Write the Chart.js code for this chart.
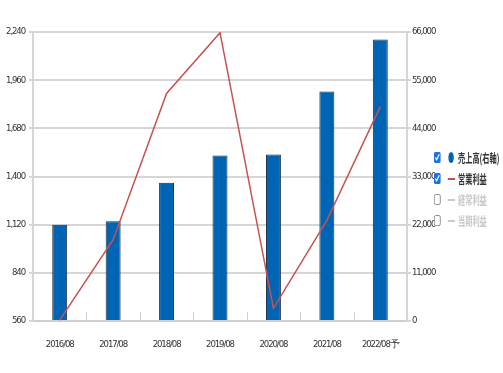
<!DOCTYPE html>
<html>
<head>
<meta charset="utf-8">
<script src="https://cdn.jsdelivr.net/npm/chart.js@4/dist/chart.umd.min.js"></script>
<style>
    body { margin: 0; background: #fff; }
    #wrap { position: relative; width: 503px; height: 373px; }
    #legend { position: absolute; left: 434px; top: 147px; font-family: "Noto Sans CJK JP", sans-serif; font-size: 12px; font-weight: bold; white-space: nowrap; transform: scaleX(0.6); transform-origin: left top; }
    .row { height: 21px; display: flex; align-items: center; color: #333; }
    .row.off { color: #c8c8c8; }
    .row input { margin: 0 12px 0 0; width: 11px; height: 11px; accent-color: #1a73e8; }
    .mark { display: inline-block; }
    .dot { width: 9px; height: 11px; border-radius: 50%; margin: 0 7px 0 1px; }
    .dash { width: 12px; height: 2px; margin-right: 5px; }
</style>
</head>
<body>
<div id="wrap">
    <canvas id="chart" width="503" height="373"></canvas>
    <div id="legend"></div>
</div>
<script>
var labels = ["2016/08", "2017/08", "2018/08", "2019/08", "2020/08", "2021/08", "2022/08予"];
var sales = [22000, 22800, 31600, 37800, 38000, 52400, 64300];
var operatingProfit = [565, 1033, 1883, 2236, 634, 1145, 1806];
var leftTicks = [560, 840, 1120, 1400, 1680, 1960, 2240];
var rightTicks = [0, 11000, 22000, 33000, 44000, 55000, 66000];

var legendItems = [
    { name: "売上高(右軸)", on: true, kind: "dot", color: "#0064b4" },
    { name: "営業利益", on: true, kind: "dash", color: "#c0504d" },
    { name: "経常利益", on: false, kind: "dash", color: "#c8c8c8" },
    { name: "当期利益", on: false, kind: "dash", color: "#c8c8c8" },
];

var tickFont = { family: "'DejaVu Sans Condensed', 'DejaVu Sans', sans-serif", size: 9.5 };

// the reference uses a very narrow face, tighten the tick text a bit
var tightText = {
    id: "tightText",
    beforeUpdate: function (chart) { chart.ctx.letterSpacing = "-1.1px"; },
    beforeDraw: function (chart) { chart.ctx.letterSpacing = "-1.1px"; },
};

// small marks at the category boundaries, drawn upward from the x axis
var boundaryTicks = {
    id: "boundaryTicks",
    afterDatasetsDraw: function (chart) {
        var x = chart.scales.x;
        var ctx = chart.ctx;
        var bottom = chart.chartArea.bottom;
        ctx.save();
        ctx.strokeStyle = "#d0d0d0";
        ctx.lineWidth = 1;
        for (var i = 1; i < labels.length; i++) {
            var px = Math.round((x.getPixelForValue(i - 1) + x.getPixelForValue(i)) / 2) + 0.5;
            ctx.beginPath();
            ctx.moveTo(px, bottom);
            ctx.lineTo(px, bottom - 9);
            ctx.stroke();
        }
        ctx.restore();
    },
};

function buildLegend() {
    var html = "";
    legendItems.forEach(function (it) {
        html += '<div class="row' + (it.on ? "" : " off") + '">' +
            '<input type="checkbox"' + (it.on ? " checked" : "") + '>' +
            '<span class="mark ' + it.kind + '" style="background:' + it.color + '"></span>' +
            it.name + "</div>";
    });
    document.getElementById("legend").innerHTML = html;
}

function init() {
    var ctx = document.getElementById("chart").getContext("2d");
    new Chart(ctx, {
        data: {
            labels: labels,
            datasets: [
                {
                    type: "line",
                    label: "営業利益",
                    data: operatingProfit,
                    yAxisID: "y",
                    borderColor: "#c8524f",
                    borderWidth: 1.5,
                    pointRadius: 0,
                    tension: 0,
                    order: 0,
                },
                {
                    type: "bar",
                    label: "売上高(右軸)",
                    data: sales,
                    yAxisID: "y1",
                    backgroundColor: "#0064b4",
                    borderColor: "#1c2a3a",
                    borderWidth: 1,
                    categoryPercentage: 1,
                    barPercentage: 0.28,
                    order: 1,
                },
            ],
        },
        options: {
            responsive: false,
            animation: false,
            layout: { padding: { top: 32, right: 56, left: 0, bottom: 0 } },
            plugins: { legend: { display: false }, tooltip: { enabled: false } },
            scales: {
                x: {
                    grid: { display: false },
                    border: { color: "#cfcfcf", width: 2 },
                    ticks: { font: tickFont, color: "#333", padding: 10, maxRotation: 0 },
                    afterFit: function (s) { s.height = 52; },
                },
                y: {
                    position: "left",
                    min: leftTicks[0],
                    max: leftTicks[leftTicks.length - 1],
                    afterBuildTicks: function (s) {
                        s.ticks = leftTicks.map(function (v) { return { value: v }; });
                    },
                    grid: { color: "#d6d6d6", lineWidth: 2, tickLength: 4 },
                    border: { color: "#d6d6d6", width: 2 },
                    ticks: { font: tickFont, color: "#333", padding: 4 },
                    afterFit: function (s) { s.width = 33; },
                },
                y1: {
                    position: "right",
                    min: rightTicks[0],
                    max: rightTicks[rightTicks.length - 1],
                    afterBuildTicks: function (s) {
                        s.ticks = rightTicks.map(function (v) { return { value: v }; });
                    },
                    grid: { drawOnChartArea: false, color: "#d6d6d6", lineWidth: 2, tickLength: 4 },
                    border: { color: "#d6d6d6", width: 2 },
                    ticks: { font: tickFont, color: "#333", padding: 1 },
                    afterFit: function (s) { s.width = 40; },
                },
            },
        },
        plugins: [tightText, boundaryTicks],
    });
    buildLegend();
}
init();
</script>
</body>
</html>
